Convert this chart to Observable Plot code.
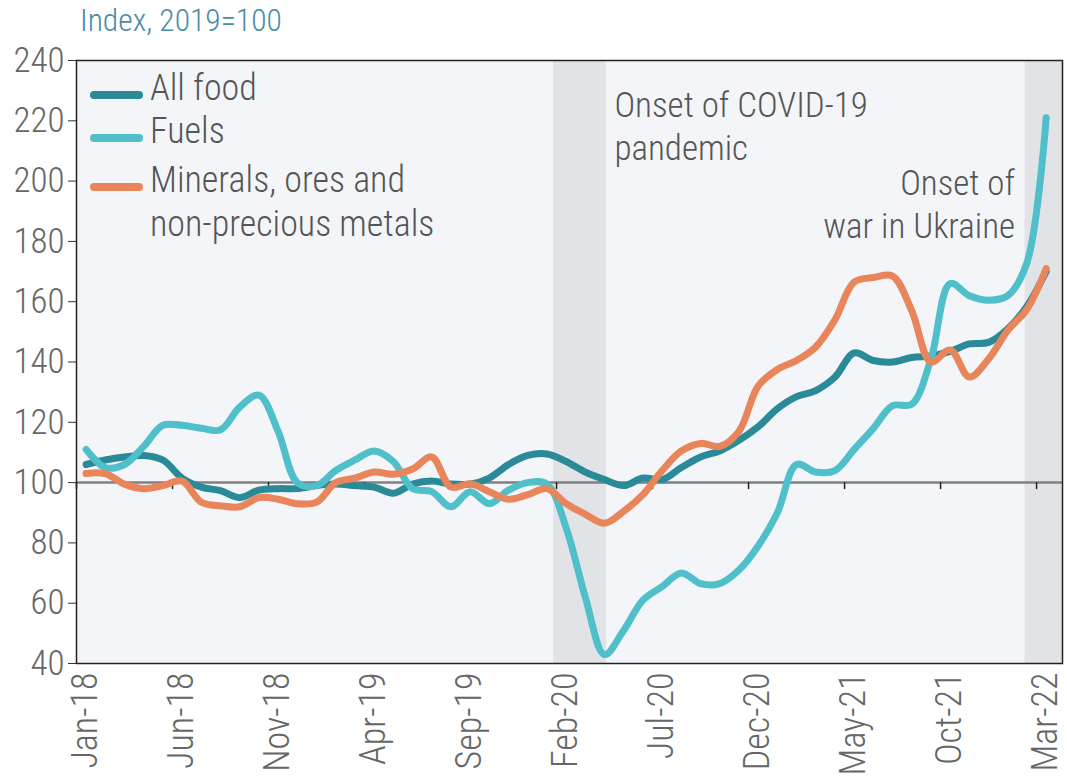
<!DOCTYPE html>
<html><head><meta charset="utf-8">
<script src="https://cdn.jsdelivr.net/npm/d3@7"></script>
<script src="https://cdn.jsdelivr.net/npm/@observablehq/plot@0.6"></script>
<style>
body{margin:0;background:#fff;font-family:'Roboto Condensed',Roboto,sans-serif;}
#wrap{position:relative;width:1067px;height:784px;overflow:hidden;}
#title{position:absolute;left:80px;top:2px;font-size:31.5px;font-weight:300;color:#4a8ca6;}
#chart{position:absolute;left:0;top:40px;}
</style></head><body>
<div id="wrap"><div id="title">Index, 2019=100</div><div id="chart"></div></div>
<script>
// Months from Jan-18 to Mar-22 (index 0..50), points plotted at band centres
const tickMonths = [0,5,10,15,20,25,30,35,40,45,50];
const tickLabels = ["Jan-18","Jun-18","Nov-18","Apr-19","Sep-19","Feb-20","Jul-20","Dec-20","May-21","Oct-21","Mar-22"];
const yTicks = [40,60,80,100,120,140,160,180,200,220,240];

const seriesNames = ["All food","Fuels","Minerals, ores and non-precious metals"];
const seriesColors = ["#2b8a98","#4fbfc9","#e8855b"];

const allFood = [106,107.5,108.5,109,107.5,101.5,98.5,97.3,95,97.5,98,98,99,99.5,99,98.5,96.5,99.5,100.5,99.5,99.5,101.5,106,109,109.5,107,103.5,101,99,101.5,101,105,108.5,110.5,114,118.5,124.5,128.5,130.5,135,143,140.5,140,141.5,142,143.5,146,146.5,151,158.5,170];
const fuels = [111,105,106,112,119,119,118,117.5,125,129,117,100,99,104,107.5,110.5,107,98,97,92,97,93,97.5,100,99.5,85,62,43,51,61,65.5,70,66.5,66.5,71,79,90,106,103.5,104,111,118,125.5,126,141,166,162,160.5,162,173,221];
const minerals = [103,103,99.5,98,99,100.5,93.5,92.3,92,95,94.5,93,93.5,100,101.5,103.5,102.8,104.5,108.5,98.5,99.6,97,94.5,96,98,93,89.5,86.5,90.5,96,104,110.5,113,112,117,132,137.5,140.5,145,154,166.5,168,168.5,157,140,144,135,141,150.5,157.5,171];

const shades = [{start:24.85, end:27.6}, {start:49.4, end:51.35}];
const legendLines = [["All food"],["Fuels"],["Minerals, ores and","non-precious metals"]];

const rows = [];
[allFood, fuels, minerals].forEach((vals, k) => vals.forEach((v, i) => rows.push({series: seriesNames[k], m: i + 0.5, v})));

const FONT = "'Roboto Condensed', Roboto, sans-serif";
const chart = Plot.plot({
  width: 1067, height: 744,
  marginTop: 20, marginBottom: 121, marginLeft: 76, marginRight: 5,
  style: {fontFamily: FONT, fontSize: "35px", fontWeight: 300, color: "#666", background: "transparent"},
  x: {type: "linear", domain: [0, 51.35]},
  y: {domain: [40, 240]},
  color: {domain: seriesNames, range: seriesColors},
  marks: [
    Plot.frame({fill: "#f3f5f9"}),
    Plot.rect(shades, {x1: "start", x2: "end", fill: "#e1e3e7"}),
    Plot.ruleY([100], {stroke: "#808080", strokeWidth: 2.5}),
    Plot.ruleX(tickMonths, {x: d => d, y1: 100, y2: 100, insetBottom: -7, stroke: "#222", strokeWidth: 1.5}),
    Plot.line(rows, {x: "m", y: "v", z: "series", stroke: "series", strokeWidth: 7, curve: "catmull-rom", strokeLinecap: "round", strokeLinejoin: "round"}),
    Plot.axisY(yTicks, {tickSize: 8, tickPadding: 4, fontSize: 35, fill: "#666", stroke: "#333", label: null}),
    Plot.axisX(tickMonths, {tickSize: 0, tickPadding: 9, tickRotate: -90, dx: 9, fontSize: 36, fill: "#666", label: null,
      tickFormat: d => tickLabels[tickMonths.indexOf(d)]}),
    Plot.text([{x: shades[0].end, t: "Onset of COVID-19\npandemic"}], {x: "x", text: "t", frameAnchor: "top", textAnchor: "start", lineAnchor: "top", dx: 8, dy: 25, fontSize: 35, lineHeight: 1.25, fill: "#555"}),
    Plot.text([{x: shades[1].start, t: "Onset of\nwar in Ukraine"}], {x: "x", text: "t", frameAnchor: "top", textAnchor: "end", lineAnchor: "top", dx: -10, dy: 103, fontSize: 35, lineHeight: 1.25, fill: "#555"}),
    Plot.frame({stroke: "#222", strokeWidth: 1.5})
  ]
});
document.getElementById("chart").appendChild(chart);

// Legend inside the plot area
const svg = d3.select(chart);
const lg = svg.append("g").attr("font-family", FONT).attr("font-size", 36).attr("font-weight", 300)
  .attr("fill", "#555").attr("text-anchor", "start");
const baselines = [[60],[103],[152,196]];
legendLines.forEach((lines, i) => {
  lg.append("line").attr("x1", 94).attr("x2", 139)
    .attr("y1", baselines[i][0] - 5).attr("y2", baselines[i][0] - 5)
    .attr("stroke", seriesColors[i]).attr("stroke-width", 8).attr("stroke-linecap", "round");
  lines.forEach((t, j) => lg.append("text").attr("x", 150).attr("y", baselines[i][j]).text(t));
});
</script>
</body></html>
